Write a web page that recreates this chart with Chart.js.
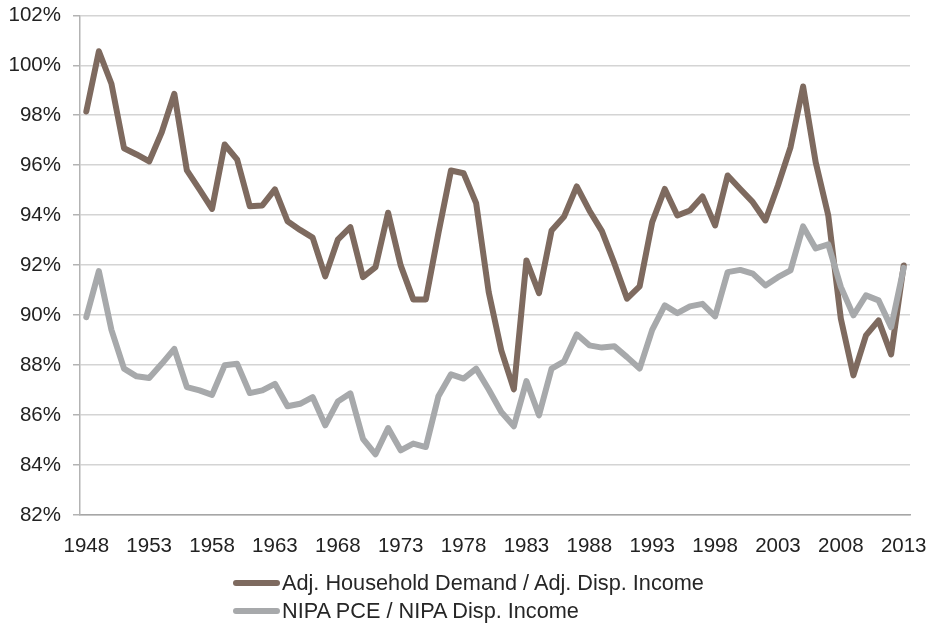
<!DOCTYPE html>
<html>
<head>
<meta charset="utf-8">
<title>Household Demand vs Disposable Income</title>
<script src="https://cdn.jsdelivr.net/npm/chart.js@4.4.1/dist/chart.umd.min.js"></script>
<style>
  html, body { margin: 0; padding: 0; background: #fff; overflow: hidden; }
  #wrap { position: relative; width: 933px; height: 625px; overflow: hidden; }
  #chart { position: absolute; left: 0; top: -9px; }
  #legend { position: absolute; left: 233px; top: 569px; font-family: "Liberation Sans", Arial, sans-serif; font-size: 21.7px; color: #262626; }
  .item { height: 28px; line-height: 28px; white-space: nowrap; }
  .swatch { display: inline-block; width: 47px; height: 6px; border-radius: 3px; vertical-align: middle; margin-right: 2px; position: relative; top: -1px; }
</style>
</head>
<body>
<div id="wrap">
  <canvas id="chart" width="933" height="634"></canvas>
  <div id="legend"></div>
</div>
<script>
const years = [];
for (let y = 1948; y <= 2013; y++) years.push(String(y));

const xTickLabels = ['1948', '1953', '1958', '1963', '1968', '1973', '1978', '1983', '1988', '1993', '1998', '2003', '2008', '2013'];

const householdDemand = [
  98.15, 100.56, 99.26, 96.68, 96.43, 96.15, 97.32, 98.86, 95.79, 95.03,
  94.25, 96.83, 96.22, 94.36, 94.39, 95.03, 93.76, 93.41, 93.10, 91.55,
  93.02, 93.52, 91.52, 91.92, 94.10, 91.99, 90.63, 90.63, 93.28, 95.79,
  95.68, 94.48, 90.92, 88.59, 87.03, 92.19, 90.88, 93.39, 93.95, 95.15,
  94.19, 93.36, 92.06, 90.66, 91.15, 93.72, 95.05, 93.99, 94.19, 94.75,
  93.59, 95.59, 95.05, 94.52, 93.79, 95.19, 96.72, 99.15, 96.12, 93.99,
  89.86, 87.59, 89.19, 89.79, 88.43, 91.99
];

const nipaPce = [
  89.92, 91.76, 89.41, 87.86, 87.55, 87.48, 88.05, 88.65, 87.12, 86.99,
  86.81, 87.99, 88.05, 86.88, 86.99, 87.25, 86.35, 86.45, 86.72, 85.59,
  86.54, 86.87, 85.05, 84.43, 85.48, 84.59, 84.86, 84.72, 86.75, 87.63,
  87.46, 87.86, 87.02, 86.12, 85.55, 87.36, 85.99, 87.86, 88.15, 89.23,
  88.79, 88.70, 88.75, 88.32, 87.86, 89.41, 90.39, 90.08, 90.35, 90.45,
  89.95, 91.72, 91.81, 91.66, 91.19, 91.52, 91.79, 93.55, 92.67, 92.83,
  91.13, 89.99, 90.79, 90.59, 89.52, 91.89
];

const seriesNames = ['Adj. Household Demand / Adj. Disp. Income', 'NIPA PCE / NIPA Disp. Income'];
const seriesColors = ['#7e6a5f', '#a7a9ab'];

const font = { family: '"Liberation Sans", Arial, sans-serif', size: 20.5 };

const chart = new Chart(document.getElementById('chart').getContext('2d'), {
  type: 'line',
  data: {
    labels: years,
    datasets: [
      { label: seriesNames[0], data: householdDemand, borderColor: seriesColors[0], order: 1 },
      { label: seriesNames[1], data: nipaPce, borderColor: seriesColors[1], order: 0 }
    ]
  },
  options: {
    responsive: false,
    animation: false,
    layout: { padding: { top: 3, right: 23, left: 0, bottom: 0 } },
    elements: {
      line: { borderWidth: 6, tension: 0, borderJoinStyle: 'round', borderCapStyle: 'round', fill: false },
      point: { radius: 0, hoverRadius: 0 }
    },
    plugins: {
      legend: { display: false },
      tooltip: { enabled: false }
    },
    scales: {
      x: {
        offset: true,
        grid: { display: false },
        border: { display: true, color: '#a6a6a6', width: 1.5 },
        ticks: {
          autoSkip: false,
          maxRotation: 0,
          padding: 11,
          color: '#222',
          font: font,
          callback: function(value, index) {
            const lbl = years[index];
            return xTickLabels.includes(lbl) ? lbl : '';
          }
        },
        afterFit: function(scale) {
          scale.height = 110;
          scale.paddingRight = 0;
          scale.paddingLeft = 0;
        }
      },
      y: {
        min: 82,
        max: 102,
        grid: { color: '#d4d4d4', lineWidth: 1.5, tickLength: 7, tickColor: '#b3b3b3' },
        border: { display: true, color: '#b3b3b3', width: 1.5 },
        ticks: {
          stepSize: 2,
          padding: 12,
          color: '#222',
          font: font,
          callback: function(v) { return v + '%'; }
        },
        afterFit: function(scale) { scale.width = 80; }
      }
    }
  }
});

const legendEl = document.getElementById('legend');
chart.data.datasets.forEach(ds => {
  const row = document.createElement('div');
  row.className = 'item';
  row.innerHTML = '<span class="swatch" style="background:' + ds.borderColor + '"></span>' + ds.label;
  legendEl.appendChild(row);
});
</script>
</body>
</html>
